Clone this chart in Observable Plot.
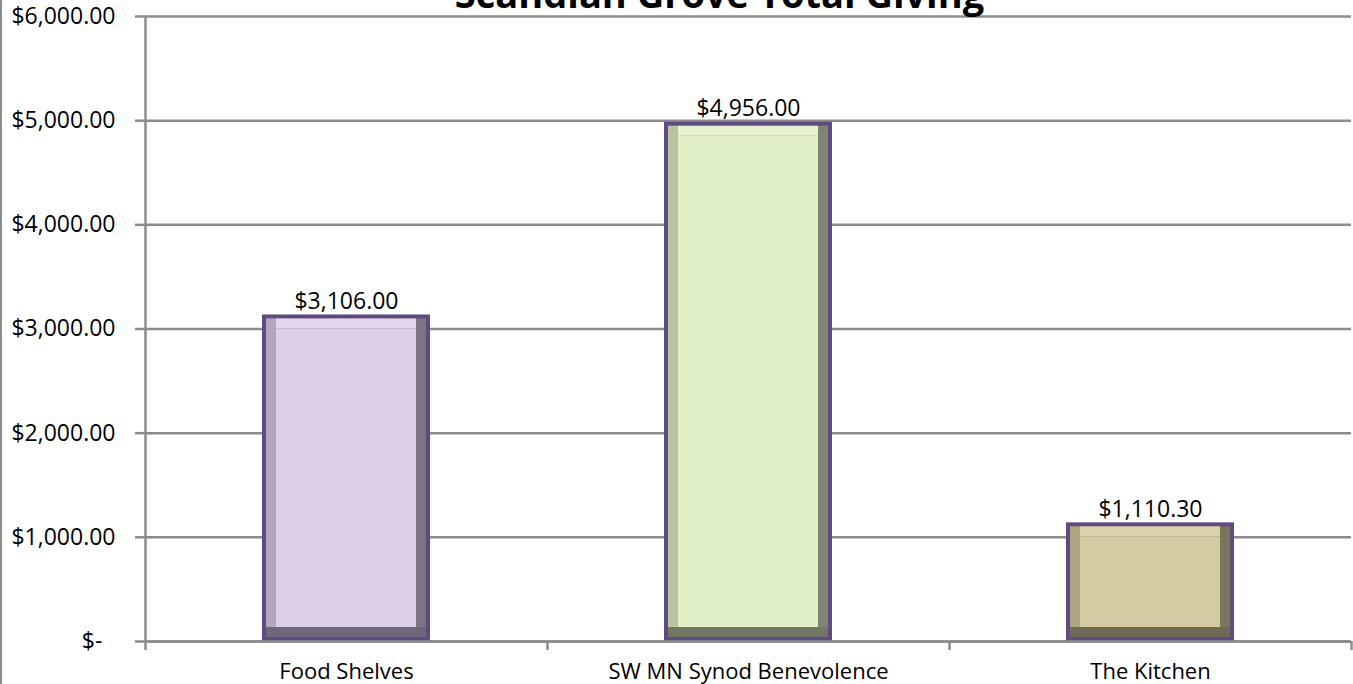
<!DOCTYPE html>
<html><head><meta charset="utf-8">
<script src="https://cdn.jsdelivr.net/npm/d3@7"></script>
<script src="https://cdn.jsdelivr.net/npm/@observablehq/plot@0.6"></script>
<style>
html,body{margin:0;padding:0;background:#fff;overflow:hidden}
#chart{position:relative;width:1353px;height:684px}
#chart svg{position:absolute;left:0;top:0}
#border{position:absolute;left:0;top:0;width:2px;height:684px;background:#8c8c8c}
</style></head><body><div id="chart"><div id="border"></div></div>
<script>
const title = "Scandian Grove Total Giving";
const categories = ["Food Shelves", "SW MN Synod Benevolence", "The Kitchen"];
const amounts = [3106.00, 4956.00, 1110.30];
const yTicks = [0, 1000, 2000, 3000, 4000, 5000, 6000];

// styles (per category, in category order)
const faceColors   = ["#dccfe7", "#e2f0c8", "#d4cba2"];
const topColors    = ["#e2d6ed", "#e8f4d1", "#dad2ac"];
const leftColors   = ["#b2a6c2", "#b8c4a4", "#aca582"];
const rightColors  = ["#7b7488", "#7e8570", "#7a755f"];
const bottomColors = ["#6f687b", "#727864", "#6e6a55"];
const borderColor = "#5f4b82";
const gridColor = "#8c8c8c";

const W = 1353, H = 684, mL = 145, mR = 2, mT = 16, mB = 43;
const pad = 0.582;
const step = (W - mL - mR) / categories.length;
const bw = step * (1 - pad);
const B = 4, V = 10, LIFT = 3;

const data = categories.map((c, i) => ({category: c, amount: amounts[i]}));
const pick = arr => d => arr[categories.indexOf(d.category)];
const fmt = d3.format("$,.2f");

const chart = Plot.plot({
  width: W, height: H,
  marginLeft: mL, marginRight: mR, marginTop: mT, marginBottom: mB,
  style: {fontFamily: "'Open Sans', sans-serif", fontSize: "23px", color: "#000", background: "transparent", overflow: "visible"},
  x: {domain: categories, paddingInner: pad, paddingOuter: pad / 2},
  y: {domain: [0, 6000]},
  marks: [
    Plot.ruleY(yTicks, {stroke: gridColor, strokeWidth: 2.5}),
    // bar body with bevels
    Plot.barY(data, {x: "category", y: "amount", fill: borderColor, insetTop: -LIFT}),
    Plot.barY(data, {x: "category", y: "amount", fill: pick(rightColors), inset: B, insetTop: B - LIFT}),
    Plot.barY(data, {x: "category", y: "amount", fill: pick(leftColors), insetLeft: B, insetRight: bw - B - V, insetTop: B - LIFT, insetBottom: B}),
    Plot.barY(data, {x: "category", y1: () => 0, y2: () => 0, fill: pick(bottomColors), insetLeft: B, insetRight: B, insetBottom: B, insetTop: -(B + V)}),
    Plot.barY(data, {x: "category", y1: d => d.amount, y2: d => d.amount, fill: pick(topColors), insetLeft: B + V, insetRight: B + V, insetTop: B - LIFT, insetBottom: -(B + V - LIFT)}),
    Plot.barY(data, {x: "category", y: "amount", fill: pick(faceColors), inset: B + V, insetTop: B + V - LIFT}),
    // axes
    Plot.ruleY([0], {stroke: gridColor, strokeWidth: 2.5}),
    Plot.ruleX([categories[0]], {dx: -step / 2, y1: () => 0, y2: () => 6000, stroke: gridColor, strokeWidth: 2.5}),
    Plot.ruleX(categories, {dx: -step / 2, y1: () => 0, y2: () => 0, insetBottom: -9, stroke: gridColor, strokeWidth: 2.5}),
    Plot.ruleX([categories[categories.length - 1]], {dx: step / 2, y1: () => 0, y2: () => 0, insetBottom: -9, stroke: gridColor, strokeWidth: 2.5}),
    Plot.axisY({ticks: yTicks, tickSize: 10, tickPadding: 20, stroke: gridColor, strokeWidth: 2.5, label: null,
      tickFormat: d => d === 0 ? "$-\u2007" : fmt(d), fontSize: 23}),
    Plot.axisX({tickSize: 0, tickPadding: 22, label: null, fontSize: 22}),
    // value labels
    Plot.text(data, {x: "category", y: "amount", text: d => fmt(d.amount), lineAnchor: "bottom", dy: -9, fontSize: 23}),
    // title
    Plot.text([title], {frameAnchor: "top", dx: -29, dy: -9, lineAnchor: "bottom", fontSize: 38, fontWeight: "bold"})
  ]
});
document.getElementById("chart").appendChild(chart);
</script>
</body></html>
